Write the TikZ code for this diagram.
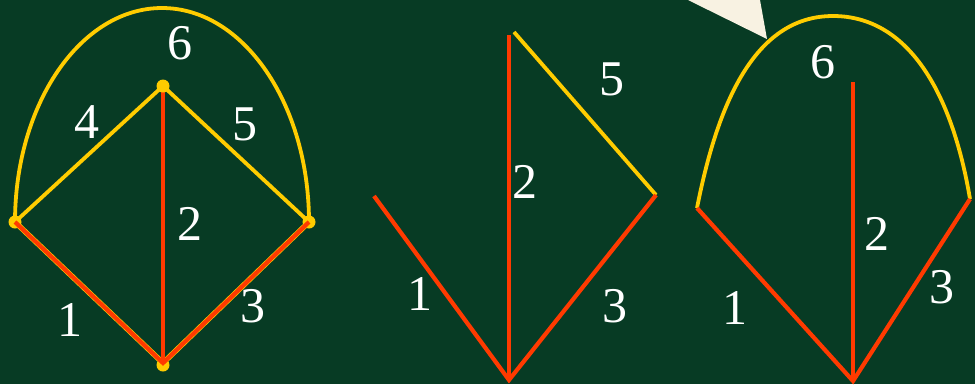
\documentclass[tikz,border=0pt]{standalone}
\usepackage{fontspec}
\setmainfont{Liberation Serif}
\definecolor{bg}{HTML}{073B24}
\definecolor{yel}{HTML}{FFCC00}
\definecolor{rd}{HTML}{FF3A00}
\definecolor{cream}{HTML}{F8F2E2}
\begin{document}
\begin{tikzpicture}[x=1pt,y=-1pt,
  yl/.style={draw=yel,line width=3.8pt},
  rl/.style={draw=rd,line width=4.2pt},
  dot/.style={circle,fill=yel,inner sep=0pt,minimum size=13pt},
  lab/.style={text=white,font=\fontsize{50}{50}\selectfont,inner sep=0pt}]
\fill[bg] (0,0) rectangle (975,384);
\useasboundingbox (0,0) rectangle (975,384);
% ---- figure 1
\coordinate (T1) at (163,86);
\coordinate (L1) at (15,222);
\coordinate (R1) at (309,222);
\coordinate (B1) at (163,363);
\node[dot] (dL1) at (L1) {};
\node[dot] (dR1) at (R1) {};
\node[dot] (dB1) at (163,365) {};
\draw[yl] (L1) arc[start angle=180,end angle=0,x radius=147,y radius=-214];
\draw[yl] (L1) -- (T1) -- (R1);
\draw[draw=yel,line width=5.4pt] (L1) -- (B1) -- (R1);
\draw[rl] (L1) -- (B1) -- (R1);
\draw[rl] (163,91) -- (B1);
\node[dot] (dT1) at (T1) {};
\node[lab] (n6a) at (180,43) {6};
\node[lab] (n4a) at (87,122) {4};
\node[lab] (n5a) at (245,124) {5};
\node[lab] (n2a) at (190,224) {2};
\node[lab] (n1a) at (70,320) {1};
\node[lab] (n3a) at (253,306) {3};
% ---- figure 2
\coordinate (T2) at (509,35);
\coordinate (B2) at (509,380);
\coordinate (R2) at (656,195);
\coordinate (L2) at (374,196);
\coordinate (Y2) at (514,32);
\draw[yl] (Y2) -- (R2);
\draw[rl] (T2) -- (B2);
\draw[rl] (R2) -- (B2) -- (L2);
\node[lab] (n5b) at (612,79) {5};
\node[lab] (n2b) at (525,182) {2};
\node[lab] (n1b) at (420,294) {1};
\node[lab] (n3b) at (615,306) {3};
% ---- figure 3
\coordinate (T3) at (853,82);
\coordinate (B3) at (853,381);
\coordinate (L3) at (697,208);
\coordinate (R3) at (970,199);
\coordinate (A3) at (833,16);
\draw[yl] (L3) .. controls (719,96) and (758,16) .. (A3)
          .. controls (908,16) and (952,92) .. (R3);
\draw[rl] (T3) -- (B3);
\draw[rl] (L3) -- (B3) -- (R3);
\fill[cream] (688,0) -- (760,0) -- (767,39) -- cycle;
\node[lab] (n6c) at (823,62) {6};
\node[lab] (n2c) at (877,234) {2};
\node[lab] (n1c) at (735,308) {1};
\node[lab] (n3c) at (942,287) {3};
\end{tikzpicture}
\end{document}
